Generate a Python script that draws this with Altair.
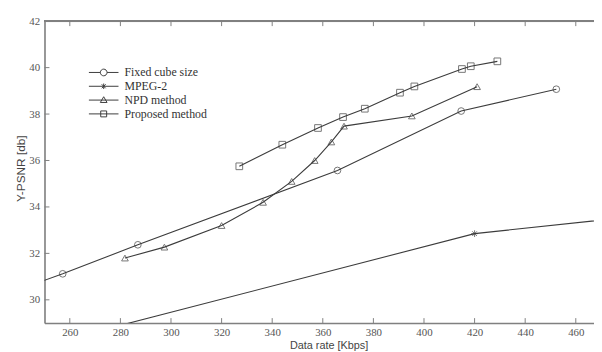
import altair as alt
import pandas as pd

# ---------------- data ----------------
series_names = ["Fixed cube size", "MPEG-2", "NPD method", "Proposed method"]

fixed_x = [240.0, 257.2, 286.9, 365.8, 414.7, 452.3]
fixed_y = [30.45, 31.12, 32.37, 35.57, 38.13, 39.07]

mpeg_x = [270.0, 420.0, 480.0]
mpeg_y = [28.62, 32.85, 33.55]

npd_x = [281.8, 297.4, 320.0, 336.4, 347.7, 356.8, 363.4, 368.4, 395.2, 421.0]
npd_y = [31.80, 32.27, 33.20, 34.20, 35.10, 36.00, 36.80, 37.48, 37.92, 39.18]

prop_x = [327.0, 344.0, 358.1, 368.0, 376.6, 390.5, 396.2, 415.0, 418.5, 429.0]
prop_y = [35.75, 36.68, 37.40, 37.87, 38.23, 38.92, 39.19, 39.94, 40.06, 40.27]

x_ticks = [260, 280, 300, 320, 340, 360, 380, 400, 420, 440, 460]
y_ticks = [30, 32, 34, 36, 38, 40, 42]

x_title = "Data rate [Kbps]"
y_title = "Y-PSNR [db]"

# ---------------- tables ----------------
rows = []
for name, xs, ys in zip(series_names, [fixed_x, mpeg_x, npd_x, prop_x],
                        [fixed_y, mpeg_y, npd_y, prop_y]):
    for i, (xv, yv) in enumerate(zip(xs, ys)):
        rows.append({"series": name, "rate": xv, "psnr": yv, "idx": i})
df = pd.DataFrame(rows)
xt = pd.DataFrame({"rate": x_ticks})
yt = pd.DataFrame({"psnr": y_ticks})

W, H = 557, 306
INK = "#3c3c3c"
AX = "#808080"

xscale = alt.Scale(domain=[250, 467.2], nice=False, zero=False)
yscale = alt.Scale(domain=[29, 42], nice=False, zero=False)

xaxis = alt.Axis(values=x_ticks, title=x_title, ticks=False, tickSize=0,
                 grid=False, labelPadding=4, domainColor=AX, domainWidth=1.6,
                 labelFont="Liberation Serif", labelFontSize=11, labelColor="#555",
                 titleFont="Liberation Sans", titleFontSize=11, titleFontWeight="normal",
                 titleColor="#444", titleX=288, titleY=23, titleBaseline="middle",
                 titleAnchor="start", titleAlign="center")
yaxis = alt.Axis(values=y_ticks, title=y_title, ticks=False, tickSize=0,
                 grid=False, labelPadding=5, domainColor=AX, domainWidth=1.6,
                 labelFont="Liberation Serif", labelFontSize=11, labelColor="#555",
                 titleFont="Liberation Sans", titleFontSize=12, titleFontWeight="normal",
                 titleColor="#444", titleX=-24, titleY=149, titleAngle=270,
                 titleBaseline="middle", titleAlign="center", titleAnchor="start")

asterisk = "M0,-1V1M-1,0H1M-0.7,-0.7L0.7,0.7M-0.7,0.7L0.7,-0.7"
marker_shapes = ["circle", asterisk, "triangle-up", "square"]

legend_shapes = [
    "M-3.75,0H-0.85A0.85,0.85,0,1,1,0.85,0A0.85,0.85,0,1,1,-0.85,0M0.85,0H3.75",
    "M-3.75,0H3.75M0,-0.7V0.7M-0.5,-0.5L0.5,0.5M-0.5,0.5L0.5,-0.5",
    "M-3.75,0H3.75M0,-0.85L0.85,0.6H-0.85Z",
    "M-3.75,0H3.75M-0.75,-0.75H0.75V0.75H-0.75Z",
]

X = alt.X("rate:Q", scale=xscale, axis=xaxis)
Y = alt.Y("psnr:Q", scale=yscale, axis=yaxis)

lines = alt.Chart(df).mark_line(clip=True, color=INK, strokeWidth=1.1).encode(
    x=X, y=Y, detail="series:N", order="idx:Q",
)

points = alt.Chart(df).mark_point(clip=True, filled=False, color=INK, strokeWidth=1, size=46).encode(
    x=X, y=Y,
    shape=alt.Shape("series:N", scale=alt.Scale(domain=series_names, range=marker_shapes), legend=None),
)

legend_layer = alt.Chart(df).mark_point(opacity=0, filled=False, color=INK, size=64).encode(
    x=X, y=Y,
    shape=alt.Shape("series:N", scale=alt.Scale(domain=series_names, range=legend_shapes),
                    legend=alt.Legend(title=None, orient="none", legendX=54, legendY=46,
                                      symbolSize=64, symbolOpacity=1, symbolStrokeColor=INK,
                                      symbolStrokeWidth=1, symbolFillColor="transparent",
                                      labelFont="Liberation Serif", labelFontSize=12,
                                      labelColor="#333", labelOffset=15, rowPadding=2,
                                      padding=0, labelLimit=300)),
)

top_line = alt.Chart(df).mark_rule(color=AX, strokeWidth=1.6).encode(
    x=alt.value(0), x2=alt.value(W), y=alt.value(0)
)

bottom_ticks = alt.Chart(xt).mark_rule(color=AX, strokeWidth=1).encode(
    x=X, y=alt.value(H), y2=alt.value(H - 5)
)
top_ticks = alt.Chart(xt).mark_rule(color=AX, strokeWidth=1).encode(
    x=X, y=alt.value(0), y2=alt.value(5)
)
left_ticks = alt.Chart(yt).mark_rule(color=AX, strokeWidth=1).encode(
    y=Y, x=alt.value(0), x2=alt.value(5)
)

chart = alt.layer(lines, points, legend_layer, top_line, bottom_ticks, top_ticks, left_ticks).resolve_scale(
    shape="independent"
).properties(
    width=W, height=H,
    autosize=alt.AutoSizeParams(type="none"),
    padding={"left": 37, "top": 11, "right": 0, "bottom": 27},
).configure_view(stroke=None).configure(background="white")

chart.save("out.html", embed_options={"renderer": "svg", "actions": False})
